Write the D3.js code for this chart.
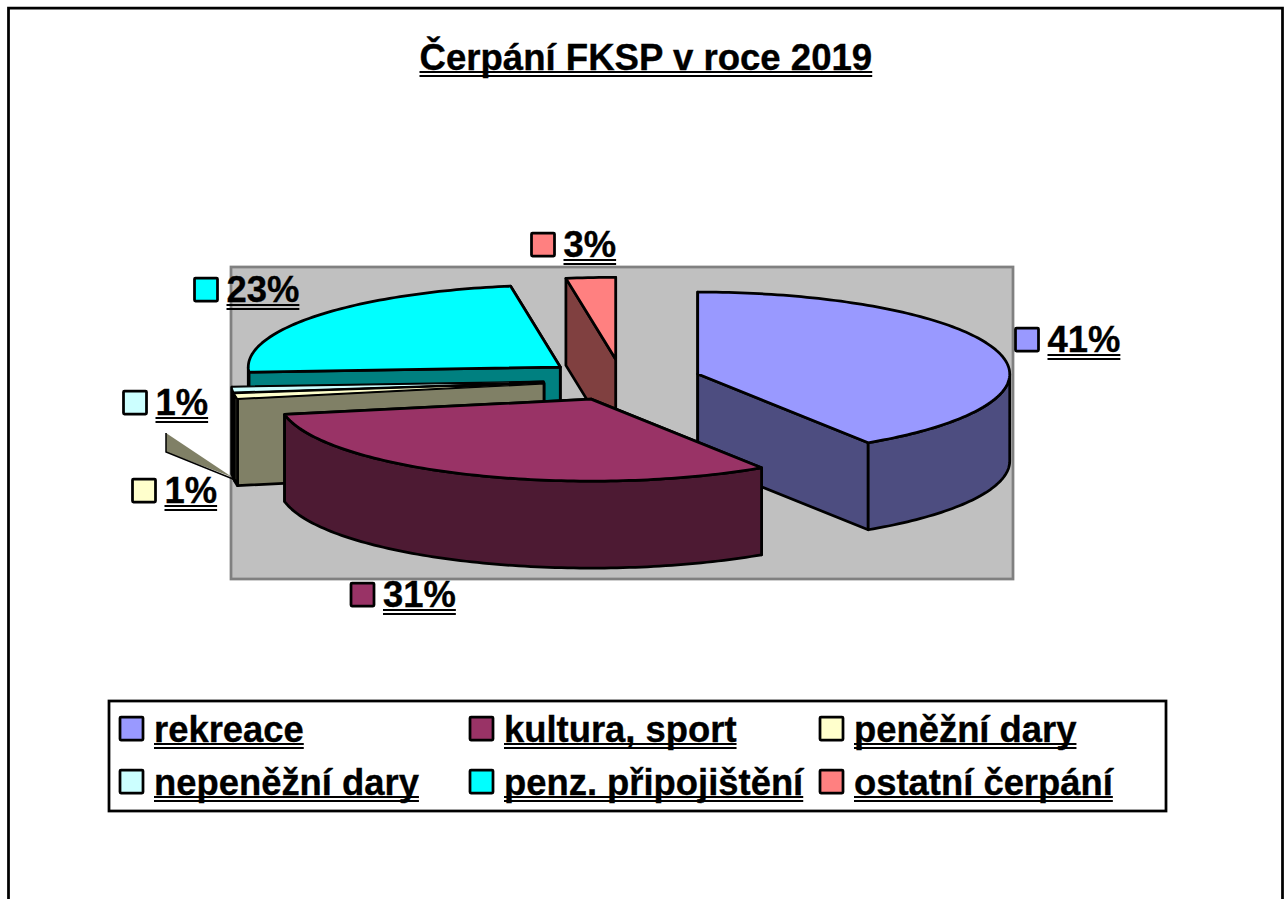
<!DOCTYPE html>
<html lang="cs">
<head>
<meta charset="utf-8">
<title>Čerpání FKSP v roce 2019</title>
<script src="https://cdn.jsdelivr.net/npm/d3@7"></script>
<style>
  html, body { margin: 0; padding: 0; background: #fff; overflow: hidden; }
  text { font-family: "Liberation Sans", Arial, sans-serif; font-weight: bold; fill: #000; stroke: #000; stroke-width: 0.35; }
</style>
</head>
<body>
<div id="chart"></div>
<script>
const TITLE = "Čerpání FKSP v roce 2019";
const categories = ["rekreace", "kultura, sport", "peněžní dary", "nepeněžní dary", "penz. připojištění", "ostatní čerpání"];
const values = [40.8, 31.2, 1, 1, 23.45, 2.55];
const colors = ["#9999ff", "#993366", "#ffffcc", "#ccffff", "#00ffff", "#ff8080"];

const WIDTH = 1288;
const HEIGHT = 899;
const TITLE_SIZE = 36.6;
const FONT_SIZE = 36.4;
const LINE = 2.75;

const center = { x: 622, y: 380 };
const radius = { x: 312, y: 82 };
const DEPTH = 87;
const EXPLODE = 79 / 312;

const plot = { x: 231, y: 267, width: 782, height: 312 };
const legend = { x: 109, y: 701, width: 1057, height: 110 };
const legendCols = [119, 469, 819];
const legendRows = [716, 769];

// top left corner of each data label's swatch, same order as categories
const labelPos = [[1014.5, 327], [350, 582], [131.5, 478], [122.5, 390], [193.5, 277], [530.5, 232]];
// slices painted from the back to the front
const paintOrder = [5, 4, 3, 2, 0, 1];

const svg = d3.select("#chart").append("svg")
  .attr("width", WIDTH)
  .attr("height", HEIGHT);

const x = d3.scaleLinear().domain([-1, 1]).range([center.x - radius.x, center.x + radius.x]);
const y = d3.scaleLinear().domain([-1, 1]).range([center.y - radius.y, center.y + radius.y]);

const slices = d3.pie().sort(null).value(d => d)(values);
const shade = c => {
  const { r, g, b } = d3.rgb(c);
  return d3.rgb(r * 0.5, g * 0.5, b * 0.5).formatHex();
};
const line = d3.line();

// ground plane coordinates of a slice point, pulled out along its middle angle
function project(slice, angle, r, drop) {
  const mid = (slice.startAngle + slice.endAngle) / 2;
  const px = r * Math.sin(angle) + EXPLODE * Math.sin(mid);
  const py = -r * Math.cos(angle) - EXPLODE * Math.cos(mid);
  return [x(px), y(py) + (drop || 0)];
}

function arcPoints(slice, a0, a1, drop) {
  const steps = Math.max(2, Math.ceil((a1 - a0) / 0.02));
  return d3.range(steps + 1).map(i => project(slice, a0 + (a1 - a0) * i / steps, 1, drop));
}

function drawShape(g, points, fill, width) {
  g.append("path")
    .attr("d", line(points) + "Z")
    .attr("fill", fill)
    .attr("stroke", "#000")
    .attr("stroke-width", width || LINE)
    .attr("stroke-linejoin", "round");
}

function drawSlice(slice) {
  const g = svg.append("g");
  const top = colors[slice.index];
  const side = shade(top);
  const { startAngle: a0, endAngle: a1 } = slice;
  // the two 1% wedges would vanish under a full width outline
  const topLine = a1 - a0 < 0.1 ? 1.25 : LINE;

  const radialWall = a => [
    project(slice, a, 0), project(slice, a, 1),
    project(slice, a, 1, DEPTH), project(slice, a, 0, DEPTH)
  ];
  const hidden = [[a0, Math.sin(a0) > 0], [a1, Math.sin(a1) < 0]];
  hidden.filter(d => d[1]).forEach(d => drawShape(g, radialWall(d[0]), side));
  hidden.filter(d => !d[1]).forEach(d => drawShape(g, radialWall(d[0]), side));

  // only the front half of the rim can be seen
  const f0 = Math.max(a0, Math.PI / 2);
  const f1 = Math.min(a1, Math.PI * 1.5);
  if (f1 > f0) {
    drawShape(g, arcPoints(slice, f0, f1).concat(arcPoints(slice, f0, f1, DEPTH).reverse()), side);
  }

  drawShape(g, [project(slice, 0, 0)].concat(arcPoints(slice, a0, a1)), top, topLine);
}

function drawUnderlined(g, label, tx, ty, size, gaps) {
  const t = g.append("text")
    .attr("x", tx)
    .attr("y", ty)
    .attr("font-size", size)
    .text(label);
  const w = t.node().getComputedTextLength();
  gaps.forEach(gap => {
    g.append("rect")
      .attr("x", tx)
      .attr("y", ty + gap)
      .attr("width", w)
      .attr("height", 2)
      .attr("fill", "#000");
  });
}

function drawSwatch(g, sx, sy, fill) {
  g.append("rect")
    .attr("x", sx + 1)
    .attr("y", sy + 1)
    .attr("width", 23)
    .attr("height", 23)
    .attr("rx", 1)
    .attr("fill", fill)
    .attr("stroke", "#000")
    .attr("stroke-width", LINE);
}

// page frame, runs off the bottom of the page
svg.append("path")
  .attr("d", `M8.5,${HEIGHT + 5}V8H1282.5V${HEIGHT + 5}`)
  .attr("fill", "none")
  .attr("stroke", "#000")
  .attr("stroke-width", LINE);

svg.append("rect")
  .attr("x", plot.x)
  .attr("y", plot.y)
  .attr("width", plot.width)
  .attr("height", plot.height)
  .attr("fill", "#c0c0c0")
  .attr("stroke", "#808080")
  .attr("stroke-width", LINE);

const titleG = svg.append("g");
drawUnderlined(titleG, TITLE, 419.5, 70, TITLE_SIZE, [1, 5]);

paintOrder.forEach(i => drawSlice(slices[i]));

// stray sliver the original renderer left beside the small slices
svg.append("path")
  .attr("d", "M166,433V452L232,477Z")
  .attr("fill", shade(colors[2]));
svg.append("path")
  .attr("d", "M166,433V452L238,481")
  .attr("fill", "none")
  .attr("stroke", "#000")
  .attr("stroke-width", 1.5);

// data labels
const labels = svg.append("g");
values.forEach((v, i) => {
  const [sx, sy] = labelPos[i];
  drawSwatch(labels, sx, sy, colors[i]);
  drawUnderlined(labels, `${Math.round(v)}%`, sx + 33, sy + 24.5, FONT_SIZE, [2.5, 6.5]);
});

// legend
const legendG = svg.append("g");
legendG.append("rect")
  .attr("x", legend.x)
  .attr("y", legend.y)
  .attr("width", legend.width)
  .attr("height", legend.height)
  .attr("fill", "#fff")
  .attr("stroke", "#000")
  .attr("stroke-width", LINE);
categories.forEach((c, i) => {
  const sx = legendCols[i % 3];
  const sy = legendRows[Math.floor(i / 3)];
  drawSwatch(legendG, sx, sy, colors[i]);
  drawUnderlined(legendG, c, sx + 35, sy + 25.5, FONT_SIZE, [1.5, 5.5]);
});
</script>
</body>
</html>
